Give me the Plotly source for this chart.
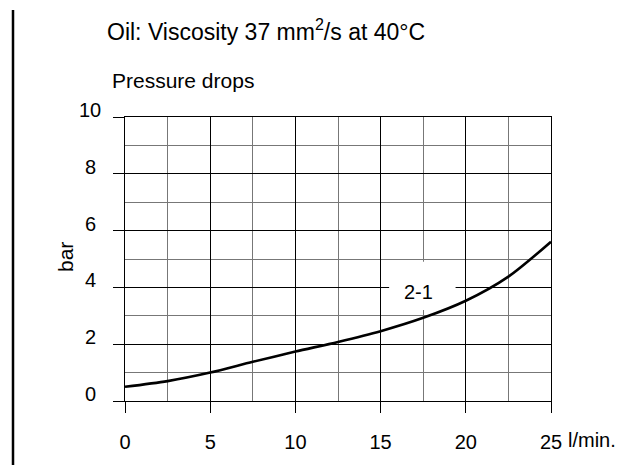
import plotly.graph_objects as go

# Pressure drop curve 2-1 (oil 37 mm2/s at 40°C)
flow = [0, 2.5, 5, 7.5, 10, 12.5, 15, 17.5, 20, 22.5, 25]
pressure = [0.5, 0.7, 1.0, 1.38, 1.74, 2.08, 2.46, 2.93, 3.53, 4.38, 5.61]

x_ticks = [0, 5, 10, 15, 20, 25]
y_ticks = [0, 2, 4, 6, 8, 10]

curve_label = "2-1"
label_x, label_y = 17.2, 3.85

FONT = "Liberation Sans, Arial, sans-serif"
W, H = 629, 465
L, R, T, B = 125, 78, 117, 64
pw, ph = W - L - R, H - T - B


def px_x(p):
    return (p - L) / pw


def px_y(p):
    return (H - B - p) / ph


fig = go.Figure()
fig.add_trace(go.Scatter(
    x=flow, y=pressure, mode="lines",
    line=dict(color="black", width=2.6, shape="spline", smoothing=0.8),
    hoverinfo="skip", showlegend=False,
))

annotations = []
for v in y_ticks:
    annotations.append(dict(
        x=px_x(90), xref="paper", y=v, yref="y", text=str(v),
        showarrow=False, xanchor="center", yanchor="middle", yshift=7,
        font=dict(family=FONT, size=20, color="black"),
    ))

annotations += [
    dict(x=25, xref="x", y=px_y(440), yref="paper", text="l/min.",
         showarrow=False, xanchor="left", yanchor="middle", xshift=15,
         font=dict(family=FONT, size=20, color="black")),
    dict(x=label_x, y=label_y, xref="x", yref="y", text=curve_label,
         showarrow=False, font=dict(family=FONT, size=20, color="black")),
    dict(x=px_x(105), xref="paper", y=px_y(30), yref="paper",
         text="Oil: Viscosity 37 mm<sup>2</sup>/s at 40°C", showarrow=False,
         xanchor="left", yanchor="middle",
         font=dict(family=FONT, size=23, color="black")),
    dict(x=px_x(110), xref="paper", y=px_y(80), yref="paper",
         text="Pressure drops", showarrow=False,
         xanchor="left", yanchor="middle",
         font=dict(family=FONT, size=21, color="black")),
    dict(x=px_x(65), xref="paper", y=px_y(257), yref="paper",
         text="bar", showarrow=False, textangle=-90,
         xanchor="center", yanchor="middle",
         font=dict(family=FONT, size=21, color="black")),
]

shapes = [
    # frame rule at the left edge of the sheet
    dict(type="line", xref="paper", yref="paper",
         x0=px_x(13), x1=px_x(13), y0=px_y(10), y1=px_y(465),
         line=dict(color="black", width=2.5)),
    # white clearing behind the curve label (above grid, below the curve)
    dict(type="rect", xref="x", yref="y", layer="between",
         x0=label_x - 1.7, x1=label_x + 2.2,
         y0=label_y - 0.65, y1=label_y + 1.05,
         fillcolor="white", line=dict(width=0)),
]

fig.update_layout(
    width=W, height=H,
    margin=dict(l=L, r=R, t=T, b=B, pad=0),
    paper_bgcolor="white", plot_bgcolor="white",
    annotations=annotations,
    shapes=shapes,
    xaxis=dict(
        range=[0, 25], tickvals=x_ticks, ticktext=[str(v) for v in x_ticks],
        ticks="outside", ticklen=11, tickcolor="black", tickwidth=1,
        ticklabelstandoff=12,
        tickfont=dict(family=FONT, size=20, color="black"),
        showgrid=True, gridcolor="black", gridwidth=1,
        minor=dict(dtick=2.5, showgrid=True, gridcolor="#777", gridwidth=1.2),
        showline=True, linecolor="black", linewidth=1, mirror=True,
        zeroline=False, fixedrange=True,
    ),
    yaxis=dict(
        range=[0, 10], tickvals=y_ticks, showticklabels=False,
        ticks="outside", ticklen=11, tickcolor="black", tickwidth=1,
        showgrid=True, gridcolor="black", gridwidth=1,
        minor=dict(dtick=1, showgrid=True, gridcolor="#777", gridwidth=1.2),
        showline=True, linecolor="black", linewidth=1, mirror=True,
        zeroline=False, fixedrange=True,
    ),
)

fig.write_html("out.html")
